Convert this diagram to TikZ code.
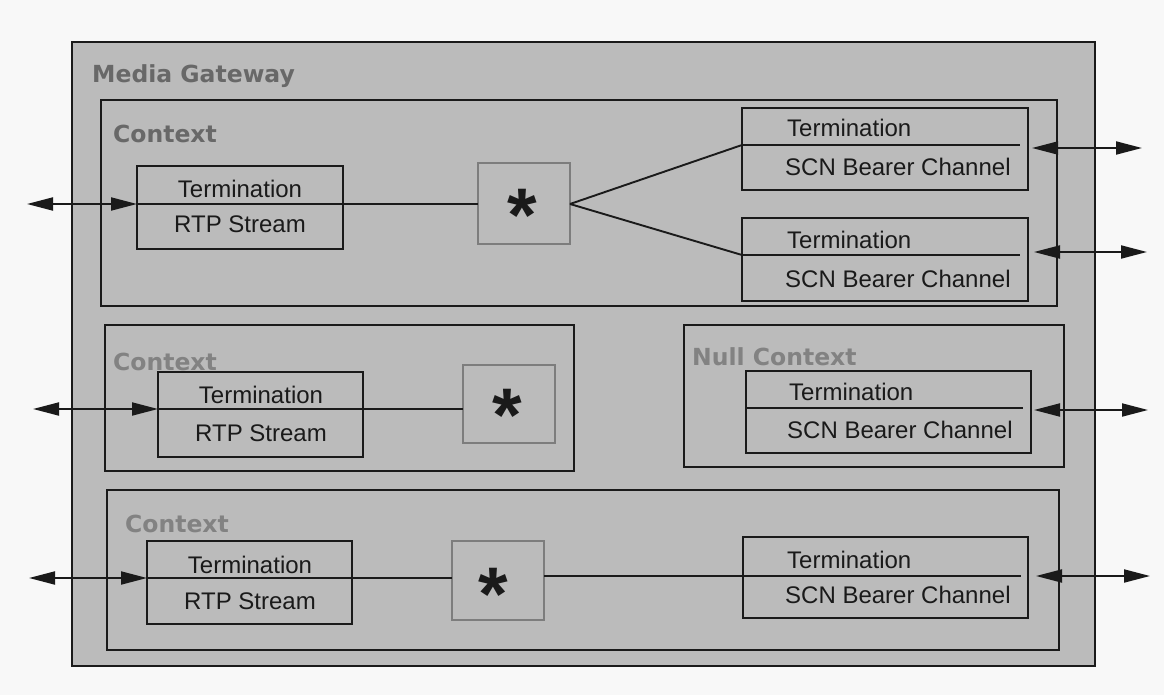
\documentclass[tikz,border=0pt]{standalone}
\usepackage{fontspec}
\setmainfont{Liberation Sans}
\newfontfamily\labelfont{DejaVu Sans}
\usetikzlibrary{arrows.meta}

\definecolor{canvas}{RGB}{248,248,248}
\definecolor{panel}{RGB}{187,187,187}
\definecolor{ink}{RGB}{26,26,26}
\definecolor{lbldark}{RGB}{104,104,104}
\definecolor{lblsoft}{RGB}{130,130,130}
\definecolor{starline}{RGB}{125,125,125}

\begin{document}
\begin{tikzpicture}[x=1pt,y=-1pt,
  frame/.style={draw=ink, line width=2pt, fill=panel, inner sep=0pt, outer sep=0pt, anchor=north west},
  starbox/.style={draw=starline, line width=1.1pt, fill=panel, inner sep=0pt, outer sep=0pt, anchor=north west},
  conn/.style={draw=ink, line width=1.9pt},
  dbl/.style={conn, {Triangle[length=26pt,width=13pt]}-{Triangle[length=26pt,width=13pt]}},
  txt/.style={font=\fontsize{24}{28}\selectfont, text=ink, inner sep=0pt},
  grouplabel/.style={font=\labelfont\bfseries\fontsize{23.5}{28}\selectfont, inner sep=0pt, anchor=base west},
  star/.style={font=\bfseries\fontsize{76}{80}\selectfont, text=ink, inner sep=0pt, anchor=base}
]
\fill[canvas] (0,0) rectangle (1164,695);
\useasboundingbox (0,0) rectangle (1164,695);

% gateway and its contexts
\node[frame, minimum width=1023pt, minimum height=624pt] (mg) at (72,42) {};
\node[grouplabel, text=lbldark] (mglbl) at (92,83) {Media Gateway};

\node[frame, minimum width=956pt, minimum height=206pt] (ctx1) at (101,100) {};
\node[grouplabel, text=lbldark] (ctx1lbl) at (113,143) {Context};

\node[frame, minimum width=469pt, minimum height=146pt] (ctx2) at (105,325) {};
\node[grouplabel, text=lblsoft] (ctx2lbl) at (113,370) {Context};

\node[frame, minimum width=380pt, minimum height=142pt] (nullctx) at (684,325) {};
\node[grouplabel, text=lblsoft] (nulllbl) at (692,365) {Null Context};

\node[frame, minimum width=952pt, minimum height=160pt] (ctx3) at (107,490) {};
\node[grouplabel, text=lblsoft] (ctx3lbl) at (125,532) {Context};

% terminations
\node[frame, minimum width=206pt, minimum height=83pt] (t1) at (137,166) {};
\node[frame, minimum width=286pt, minimum height=82pt] (scn1) at (742,108) {};
\node[frame, minimum width=286pt, minimum height=83pt] (scn2) at (742,218) {};
\node[frame, minimum width=205pt, minimum height=85pt] (t2) at (158,372) {};
\node[frame, minimum width=285pt, minimum height=82pt] (scn3) at (746,371) {};
\node[frame, minimum width=205pt, minimum height=83pt] (t3) at (147,541) {};
\node[frame, minimum width=285pt, minimum height=81pt] (scn4) at (743,537) {};

% context switching points
\node[starbox, minimum width=92pt, minimum height=81pt] (s1) at (478,163) {};
\node[starbox, minimum width=92pt, minimum height=78pt] (s2) at (463,365) {};
\node[starbox, minimum width=92pt, minimum height=79pt] (s3) at (452,541) {};
\node[star] (s1star) at (522,241) {*};
\node[star] (s2star) at (507,441) {*};
\node[star] (s3star) at (493,620) {*};

% termination texts
\node[txt, anchor=base] (t1a) at (240,197) {Termination};
\node[txt, anchor=base] (t1b) at (240,233) {RTP Stream};
\node[txt, anchor=base] (t2a) at (261,403) {Termination};
\node[txt, anchor=base] (t2b) at (261,441) {RTP Stream};
\node[txt, anchor=base] (t3a) at (250,573) {Termination};
\node[txt, anchor=base] (t3b) at (250,609) {RTP Stream};
\node[txt, anchor=base west] (scn1a) at (787,137) {Termination};
\node[txt, anchor=base west] (scn1b) at (785,176) {SCN Bearer Channel};
\node[txt, anchor=base west] (scn2a) at (787,248) {Termination};
\node[txt, anchor=base west] (scn2b) at (785,287) {SCN Bearer Channel};
\node[txt, anchor=base west] (scn3a) at (789,400) {Termination};
\node[txt, anchor=base west] (scn3b) at (787,438) {SCN Bearer Channel};
\node[txt, anchor=base west] (scn4a) at (787,568) {Termination};
\node[txt, anchor=base west] (scn4b) at (785,603) {SCN Bearer Channel};

% divider ends on the termination boxes
\coordinate (t1d) at (137,204);
\coordinate (t2d) at (158,409);
\coordinate (t3d) at (147,578);
\coordinate (scn1d) at (742,145);
\coordinate (scn2d) at (742,255);
\coordinate (scn3d) at (746,408);
\coordinate (scn4d) at (743,576);

% SCN dividers stop short of the right edge
\draw[conn] (scn1d) -- ++(278,0);
\draw[conn] (scn2d) -- ++(278,0);
\draw[conn] (scn3d) -- ++(277,0);
\draw[conn] (scn4d) -- ++(278,0);

% streams through the contexts
\draw[conn] (t1d) -- (s1.west |- t1d);
\draw[conn] (s1.east |- t1d) -- (scn1d);
\draw[conn] (s1.east |- t1d) -- (scn2d);
\draw[conn] (t2d) -- (s2.west |- t2d);
\draw[conn] (t3d) -- (s3.west |- t3d);
\draw[conn] (s3.east |- scn4d) -- (scn4d);

% external connections
\coordinate (w1) at (27,204);
\coordinate (w2) at (33,409);
\coordinate (w3) at (29,578);
\draw[dbl] (w1) -- (t1d);
\draw[dbl] (w2) -- (t2d);
\draw[dbl] (w3) -- (t3d);

\coordinate (scn1o) at (1032,148);
\coordinate (scn2o) at (1034,252);
\coordinate (scn3o) at (1034,410);
\coordinate (scn4o) at (1036,576);
\coordinate (e1) at (1142,148);
\coordinate (e2) at (1147,252);
\coordinate (e3) at (1148,410);
\coordinate (e4) at (1150,576);
\draw[dbl] (scn1o) -- (e1);
\draw[dbl] (scn2o) -- (e2);
\draw[dbl] (scn3o) -- (e3);
\draw[dbl] (scn4o) -- (e4);
\end{tikzpicture}
\end{document}
